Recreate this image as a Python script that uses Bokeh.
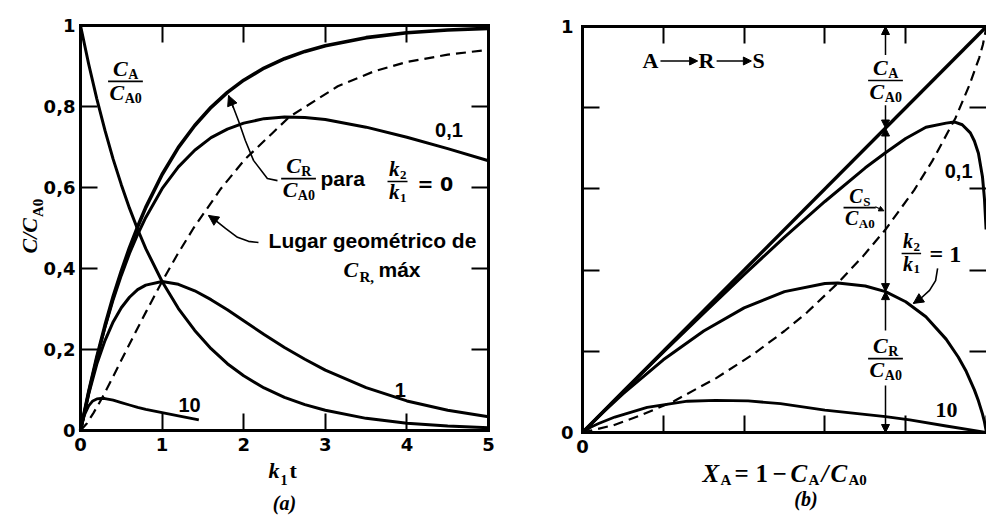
import math
from bokeh.plotting import figure
from bokeh.layouts import row
from bokeh.models import Range1d, FixedTicker, LinearAxis, Label, Arrow, NormalHead
from bokeh.embed import file_html
from bokeh.resources import INLINE

# ---------------- panel (a): C/CA0 against k1 t ----------------
t = [0.0, 0.1, 0.2, 0.3, 0.4, 0.5, 0.6, 0.7, 0.8, 1.0, 1.2, 1.4, 1.6, 1.8,
     2.0, 2.25, 2.5, 2.75, 3.0, 3.5, 4.0, 4.5, 5.0]
ca = [1.000, 0.905, 0.819, 0.741, 0.670, 0.607, 0.549, 0.497, 0.449, 0.368,
      0.301, 0.247, 0.202, 0.165, 0.135, 0.105, 0.082, 0.064, 0.050, 0.030,
      0.018, 0.011, 0.007]
cr_k0 = [0.000, 0.095, 0.181, 0.259, 0.330, 0.393, 0.451, 0.503, 0.551, 0.632,
         0.699, 0.753, 0.798, 0.835, 0.865, 0.895, 0.918, 0.936, 0.950, 0.970,
         0.982, 0.989, 0.993]
cr_k01 = [0.000, 0.095, 0.179, 0.255, 0.323, 0.383, 0.437, 0.484, 0.526, 0.597,
          0.651, 0.692, 0.723, 0.744, 0.759, 0.770, 0.774, 0.773, 0.768, 0.749,
          0.724, 0.696, 0.666]
cr_k1 = [0.000, 0.090, 0.164, 0.222, 0.268, 0.303, 0.329, 0.348, 0.359, 0.368,
         0.361, 0.345, 0.323, 0.298, 0.271, 0.237, 0.205, 0.176, 0.149, 0.106,
         0.073, 0.050, 0.034]
t10 = [0.0, 0.025, 0.05, 0.1, 0.15, 0.2, 0.25, 0.3, 0.4, 0.5, 0.6, 0.7, 0.8,
       1.0, 1.2, 1.45]
cr_k10 = [0.000, 0.022, 0.039, 0.061, 0.073, 0.078, 0.079, 0.079, 0.075, 0.069,
          0.063, 0.057, 0.052, 0.044, 0.036, 0.026]
# locus of the maxima of C_R
loc_t = [0.0, 0.080, 0.158, 0.256, 0.402, 0.549, 0.693, 0.811, 1.000, 1.189,
         1.386, 1.720, 2.012, 2.558, 3.153, 3.600, 4.000, 4.500, 5.000]
loc_c = [0.000, 0.018, 0.043, 0.077, 0.134, 0.193, 0.250, 0.296, 0.368, 0.435,
         0.500, 0.597, 0.669, 0.774, 0.850, 0.887, 0.910, 0.928, 0.940]

a_yticks = [0, 0.2, 0.4, 0.6, 0.8, 1]
a_ylabels = ["0", "0,2", "0,4", "0,6", "0,8", "1"]
a_xticks = [0, 1, 2, 3, 4, 5]
a_xlabels = ["0", "1", "2", "3", "4", "5"]

# ---------------- panel (b): C/CA0 against conversion X_A ----------------
xb_line = [0.0, 1.0]
yb_line = [0.0, 1.0]
xb01 = [0.0, 0.1, 0.2, 0.3, 0.4, 0.5, 0.6, 0.7, 0.75, 0.8, 0.85, 0.9, 0.92,
        0.94, 0.96, 0.97, 0.98, 0.99, 0.995, 0.999]
yb01 = [0.000, 0.100, 0.198, 0.294, 0.389, 0.481, 0.569, 0.652, 0.689, 0.724,
        0.752, 0.762, 0.765, 0.758, 0.738, 0.718, 0.688, 0.630, 0.575, 0.500]
xb1 = [0.0, 0.05, 0.1, 0.2, 0.3, 0.4, 0.5, 0.6, 0.632, 0.7, 0.75, 0.8, 0.85,
       0.9, 0.93, 0.95, 0.97, 0.98, 0.99, 0.995, 1.0]
yb1 = [0.000, 0.049, 0.095, 0.179, 0.250, 0.307, 0.347, 0.367, 0.368, 0.361,
       0.347, 0.322, 0.285, 0.230, 0.186, 0.150, 0.105, 0.078, 0.046, 0.026,
       0.000]
xb10 = [0.0, 0.02, 0.04, 0.08, 0.16, 0.26, 0.33, 0.41, 0.49, 0.60, 0.75, 0.81,
        0.90, 1.0]
yb10 = [0.000, 0.013, 0.022, 0.038, 0.062, 0.077, 0.079, 0.078, 0.071, 0.055,
        0.039, 0.031, 0.016, 0.000]
locb_x = [0.0, 0.077, 0.146, 0.226, 0.331, 0.423, 0.500, 0.556, 0.632, 0.695,
          0.750, 0.821, 0.866, 0.923, 0.957, 0.982, 0.991, 1.0]
locb_y = [0.000, 0.018, 0.043, 0.077, 0.134, 0.193, 0.250, 0.296, 0.368, 0.435,
          0.500, 0.597, 0.669, 0.774, 0.854, 0.923, 0.955, 1.0]
x_mark = 0.75          # conversion at which the three concentrations are marked

b_ticks = [0, 0.2, 0.4, 0.6, 0.8, 1]
b_ylabels = ["0", "", "", "", "", "1"]
b_xlabels = ["0", "", "", "", "", ""]

SERIF = "Liberation Serif"
SANS = "DejaVu Sans"
HELV = "Liberation Sans"
INK = "black"

# advance widths (em) used to lay out composed symbols
BI_W = {"C": 0.667, "X": 0.667, "k": 0.5, "/": 0.278}
B_W = {"A": 0.722, "R": 0.722, "S": 0.556, "0": 0.5, "1": 0.5, "2": 0.5, ",": 0.25}


def tw(s, table, size):
    return sum(table.get(ch, 0.5) for ch in s) * size


def label(p, x, y, text, size, font=SERIF, style="bold", align="left",
          dx=0.0, dy=0.0, angle=0.0):
    p.add_layout(Label(x=x, y=y, text=text, x_offset=dx, y_offset=dy, angle=angle,
                       text_font=font, text_font_size=f"{size}px",
                       text_font_style=style, text_align=align,
                       text_baseline="middle", text_color=INK))


def symbol(p, x, y, main, sub, size, sub_size, dx=0.0, dy=0.0, drop=3.0):
    label(p, x, y, main, size, style="bold italic", dx=dx, dy=dy)
    w = tw(main, BI_W, size)
    label(p, x, y, sub, sub_size, style="bold", dx=dx + w + 0.5,
          dy=dy - (0.35 * (size - sub_size) + drop))
    return w + tw(sub, B_W, sub_size)


def fraction(p, x, y, num, den, px_per_x, size=22, sub_size=14):
    wn = tw(num[0], BI_W, size) + tw(num[1], B_W, sub_size)
    wd = tw(den[0], BI_W, size) + tw(den[1], B_W, sub_size)
    symbol(p, x, y, num[0], num[1], size, sub_size, dx=-wn / 2, dy=5 + 0.35 * size)
    symbol(p, x, y, den[0], den[1], size, sub_size, dx=-wd / 2, dy=-(4 + 0.31 * size))
    half = (max(wn, wd) + 3) / 2 / px_per_x
    p.segment(x0=[x - half], y0=[y], x1=[x + half], y1=[y], line_color=INK, line_width=1.6)


def head(size):
    return NormalHead(size=size, fill_color=INK, line_color=INK, line_width=1)


def arrow(p, x0, y0, x1, y1, size=9, both=False, lw=1.5):
    p.add_layout(Arrow(x_start=x0, y_start=y0, x_end=x1, y_end=y1,
                       line_color=INK, line_width=lw, end=head(size),
                       start=head(size) if both else None))


def leader(p, xs, ys, size=10):
    p.line(xs, ys, line_color=INK, line_width=1.6, line_join="round")
    arrow(p, xs[-2], ys[-2], xs[-1], ys[-1], size=size)


def style_axis(ax, ticks, texts, loc, bounds, standoff=6, line=True):
    ax.fixed_location = loc
    ax.bounds = bounds
    ax.ticker = FixedTicker(ticks=ticks, minor_ticks=[])
    ax.major_label_overrides = {tk: tx for tk, tx in zip(ticks, texts)}
    ax.major_tick_in = 17
    ax.major_tick_out = 0
    ax.major_tick_line_width = 2
    ax.major_tick_line_color = INK
    ax.minor_tick_line_color = None
    ax.major_label_standoff = standoff
    ax.major_label_text_font = SANS
    ax.major_label_text_font_style = "bold"
    ax.major_label_text_font_size = "18px"
    ax.major_label_text_color = INK
    if line:
        ax.axis_line_color = INK
        ax.axis_line_width = 3
        ax.axis_line_cap = "square"
    else:
        ax.axis_line_color = None


def panel(width, x0_px, x_scale, y0_px, y_scale):
    """Figure whose frame fills the canvas, data origin placed at (x0_px, y0_px)."""
    xr = Range1d(-x0_px / x_scale, (width - x0_px) / x_scale)
    yr = Range1d(-(522 - y0_px) / y_scale, y0_px / y_scale)
    p = figure(width=width, height=522, x_range=xr, y_range=yr,
               output_backend="svg", toolbar_location=None, min_border=0)
    p.grid.visible = False
    p.outline_line_color = None
    p.background_fill_color = "white"
    p.border_fill_color = "white"
    return p


# ======================= panel (a) =======================
ap, aq = 81.6, 405.0        # pixels per unit of k1 t and of C/CA0
pa = panel(531, 80, ap, 430, aq)
style_axis(pa.xaxis[0], a_xticks, a_xlabels, 0, (0, 5), standoff=7)
style_axis(pa.yaxis[0], a_yticks, a_ylabels, 0, (0, 1), standoff=5)
top_a = LinearAxis()
style_axis(top_a, [1, 2, 3, 4], ["", "", "", ""], 1, (0, 5), standoff=0)
pa.add_layout(top_a, "above")
right_a = LinearAxis()
style_axis(right_a, [0.2, 0.4, 0.6, 0.8], ["", "", "", ""], 5, (0, 1), standoff=0)
pa.add_layout(right_a, "right")

pa.line(loc_t, loc_c, line_color=INK, line_width=2.2, line_dash="10 6")
pa.line(t, ca, line_color=INK, line_width=3, line_join="round")
pa.line(t, cr_k0, line_color=INK, line_width=3.6, line_join="round")
pa.line(t, cr_k01, line_color=INK, line_width=3, line_join="round")
pa.line(t, cr_k1, line_color=INK, line_width=3, line_join="round")
pa.line(t10, cr_k10, line_color=INK, line_width=2.8, line_join="round")

fraction(pa, 0.551, 0.862, ("C", "A"), ("C", "A0"), ap)
label(pa, 4.516, 0.742, "0,1", 20, font=HELV, align="center")
fraction(pa, 2.672, 0.622, ("C", "R"), ("C", "A0"), ap)
label(pa, 2.941, 0.621, "para", 21, font=HELV)
fraction(pa, 3.885, 0.615, ("k", "2"), ("k", "1"), ap, size=21, sub_size=13)
label(pa, 4.130, 0.609, "= 0", 19, font=SANS)
leader(pa, [2.414, 2.290, 2.120, 2.020, 1.936, 1.875, 1.814],
       [0.617, 0.622, 0.667, 0.716, 0.765, 0.797, 0.827])
label(pa, 3.578, 0.468, "Lugar geométrico de", 21, font=HELV, align="center")
label(pa, 3.223, 0.397, "C", 22, style="bold italic")
label(pa, 3.223, 0.397, "R,", 15, dx=16, dy=-7.5)
label(pa, 3.223, 0.397, "máx", 21, font=HELV, dx=35)
leader(pa, [2.181, 2.059, 1.924, 1.777, 1.654, 1.569],
       [0.464, 0.467, 0.477, 0.499, 0.519, 0.531])
label(pa, 3.92, 0.099, "1", 20, font=HELV, align="center")
label(pa, 1.336, 0.062, "10", 20, font=HELV, align="center")

# axis titles of (a)
label(pa, 2.304, -0.0995, "k", 22, style="bold italic")
label(pa, 2.304, -0.0995, "1", 14, dx=12, dy=-8.8)
label(pa, 2.304, -0.0995, "t", 22, dx=21)
label(pa, 2.5, -0.178, "(a)", 20, style="bold italic", align="center")
label(pa, -0.621, 0.437, "C/C", 22, style="bold italic", angle=math.pi / 2)
label(pa, -0.621, 0.437, "A0", 15, dx=8.5, dy=tw("C/C", BI_W, 22) + 1, angle=math.pi / 2)

# ======================= panel (b) =======================
bp, bq = 404.0, 406.0       # pixels per unit of X_A and of C/CA0
pb = panel(455, 51, bp, 432, bq)
style_axis(pb.xaxis[0], b_ticks, b_xlabels, 0, (0, 1), standoff=7)
style_axis(pb.yaxis[0], b_ticks, b_ylabels, 0, (0, 1), standoff=9)
top_b = LinearAxis()
style_axis(top_b, [0.2, 0.4, 0.6, 0.8], ["", "", "", ""], 1, (0, 1), standoff=0)
pb.add_layout(top_b, "above")
right_b = LinearAxis()
style_axis(right_b, [0.2, 0.4, 0.6, 0.8], ["", "", "", ""], 1, (0, 1), standoff=0, line=False)
pb.add_layout(right_b, "right")

pb.line(locb_x, locb_y, line_color=INK, line_width=2.2, line_dash="10 6")
pb.line(xb_line, yb_line, line_color=INK, line_width=3.4)
pb.line(xb01, yb01, line_color=INK, line_width=3, line_join="round")
pb.line(xb1, yb1, line_color=INK, line_width=3, line_join="round")
pb.line(xb10, yb10, line_color=INK, line_width=2.8, line_join="round")

# reaction scheme
label(pb, 0.1485, 0.9155, "A", 22)
label(pb, 0.287, 0.9155, "R", 22)
label(pb, 0.421, 0.9155, "S", 22)
arrow(pb, 0.193, 0.915, 0.285, 0.915, size=8, lw=1.6)
arrow(pb, 0.332, 0.915, 0.418, 0.915, size=8, lw=1.6)

# concentrations marked along the vertical at x_mark
y_sum = yb_line[0] + (yb_line[1] - yb_line[0]) * x_mark
y_r = yb1[xb1.index(x_mark)]
fraction(pb, x_mark, 0.867, ("C", "A"), ("C", "A0"), bp)
arrow(pb, x_mark, 0.930, x_mark, 1.0, size=8)
arrow(pb, x_mark, 0.806, x_mark, y_sum, size=8)
arrow(pb, x_mark, y_r, x_mark, y_sum, size=8, both=True)
fraction(pb, 0.686, 0.554, ("C", "S"), ("C", "A0"), bp, size=20, sub_size=13)
arrow(pb, 0.725, 0.556, 0.746, 0.546, size=5, lw=1.2)
fraction(pb, x_mark, 0.182, ("C", "R"), ("C", "A0"), bp)
arrow(pb, x_mark, 0.251, x_mark, y_r, size=8)
arrow(pb, x_mark, 0.116, x_mark, 0.0, size=8)

fraction(pb, 0.814, 0.441, ("k", "2"), ("k", "1"), bp, size=20, sub_size=13)
label(pb, 0.859, 0.439, "= 1", 24)
leader(pb, [0.879, 0.874, 0.859, 0.837, 0.819], [0.404, 0.374, 0.350, 0.330, 0.318])
label(pb, 0.931, 0.645, "0,1", 20, font=HELV, align="center")
label(pb, 0.901, 0.055, "10", 22, align="center")

# axis title of (b): X_A = 1 - C_A / C_A0
xs0, ys0 = 0.297, -0.1016
label(pb, xs0, ys0, "X", 25, style="bold italic")
label(pb, xs0, ys0, "A", 15, dx=18, dy=-6.5)
label(pb, xs0, ys0, "=", 25, dx=32)
label(pb, xs0, ys0, "1", 25, dx=53)
label(pb, xs0, ys0, "\u2212", 25, dx=70)
label(pb, xs0, ys0, "C", 25, style="bold italic", dx=88)
label(pb, xs0, ys0, "A", 15, dx=106, dy=-6.5)
label(pb, xs0, ys0, "/", 25, style="bold italic", dx=119)
label(pb, xs0, ys0, "C", 25, style="bold italic", dx=128)
label(pb, xs0, ys0, "A0", 15, dx=146, dy=-6.5)
label(pb, 0.553, -0.165, "(b)", 20, style="bold italic", align="center")

layout = row(pa, pb)
open("out.html", "w").write(file_html(layout, INLINE))
